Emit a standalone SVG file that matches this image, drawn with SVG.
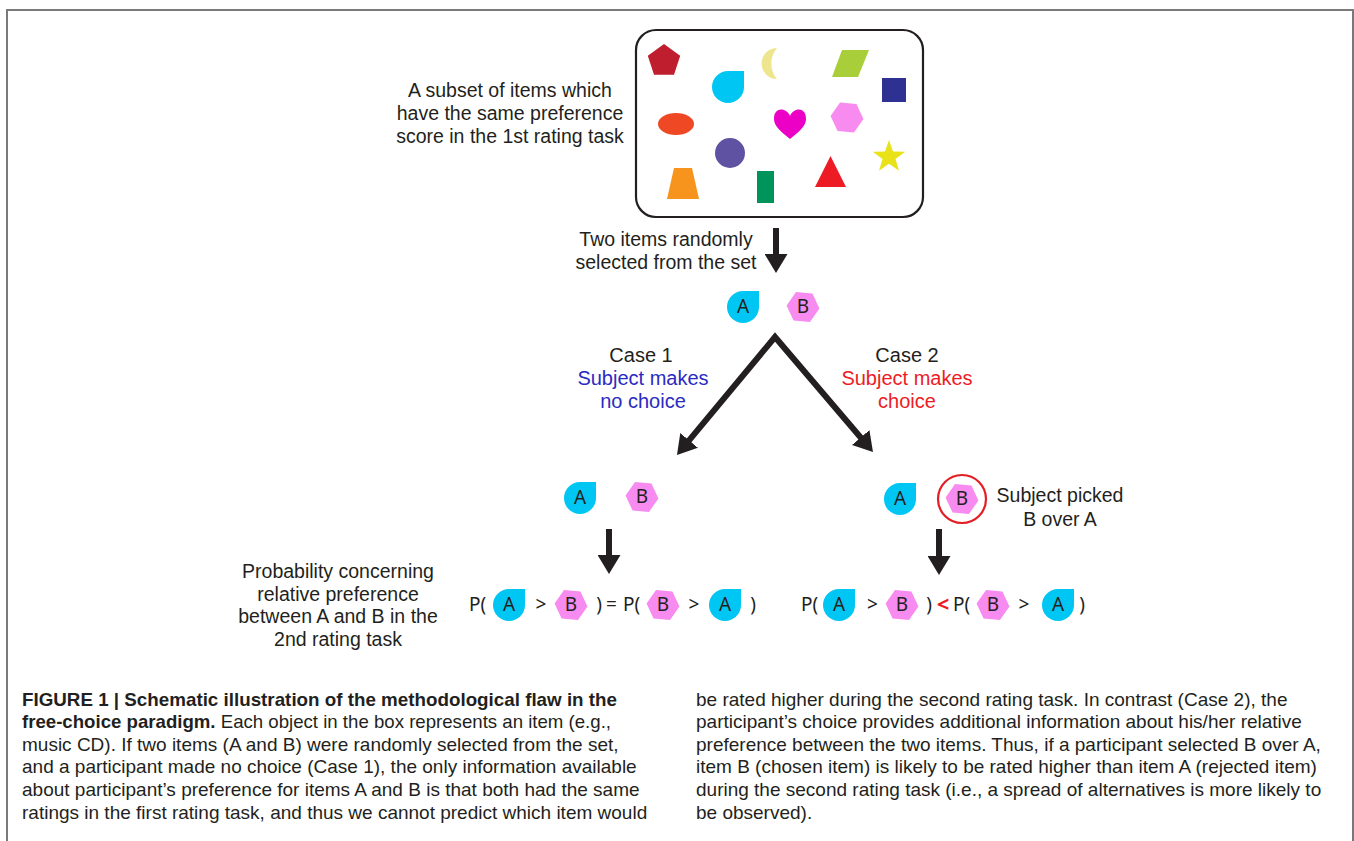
<svg xmlns="http://www.w3.org/2000/svg" xmlns:xlink="http://www.w3.org/1999/xlink" width="1354" height="841" viewBox="0 0 1354 841">
<style>
.lbl{font-family:"Liberation Sans",Arial,sans-serif;font-size:19.5px;fill:#231F20;text-anchor:middle}
.blue{fill:#2B2BC2}
.red{fill:#ED1C24}
.ico{font-family:"Noto Sans","Open Sans",sans-serif;font-size:19px;fill:#231F20;text-anchor:middle}
.fx{font-family:"Noto Sans","Open Sans",sans-serif;font-size:19px;fill:#231F20}
.cap{font-family:"Liberation Sans",Arial,sans-serif;font-size:19px;fill:#231F20}
.b{font-weight:bold}
.conn{fill:none;stroke:#231F20;stroke-width:6;stroke-linejoin:miter;stroke-miterlimit:10}
</style>
<defs>
<marker id="ah" viewBox="0 0 19 23" refX="3" refY="11.5" markerWidth="19" markerHeight="23" markerUnits="userSpaceOnUse" orient="auto-start-reverse">
<path d="M0,0 L19,11.5 L0,23 Z" fill="#231F20"/>
</marker>
<path id="tear" d="M0,-16 H16 V0 A16,16 0 1 1 0,-16 Z" fill="#00C6F3"/>
<polygon id="hex" points="16.44,1.44 6.97,14.95 -9.46,13.52 -16.44,-1.44 -6.97,-14.95 9.46,-13.52" fill="#F78BEF"/>
</defs>
<rect x="0" y="0" width="1354" height="841" fill="#FFFFFF"/>
<path d="M7,841 V10 H1353 V841" fill="none" stroke="#7A7A7A" stroke-width="2"/>

<g id="item-set">
<rect x="636" y="30" width="287" height="187" rx="20" ry="20" fill="#FFFFFF" stroke="#231F20" stroke-width="2.2"/>
<polygon points="664,44 680.2,55.7 674,74.8 654,74.8 647.8,55.7" fill="#BE1E2D"/>
<path d="M728,71 H744 V87 A16,16 0 1 1 728,71 Z" fill="#00C6F3"/>
<path d="M777,48 A15.5,15.5 0 0 0 777,79 A24,24 0 0 1 777,48 Z" fill="#EEE68F"/>
<polygon points="842,50 869,50 858,77 832,77" fill="#A8CF3A"/>
<rect x="882" y="78" width="24" height="24" fill="#2E3192"/>
<ellipse cx="676" cy="124" rx="18" ry="11" fill="#EE4824"/>
<path d="M790,116 C787,108 774,106 774,119 C774,127 783,133 790,139 C797,133 806,127 806,119 C806,106 793,108 790,116 Z" fill="#EC00C6"/>
<use xlink:href="#hex" href="#hex" x="847" y="117.5"/>
<circle cx="730" cy="153" r="15" fill="#6052A2"/>
<polygon points="889,140 893,151.5 905.2,151.7 895.5,159 899,170.8 889,163.8 879,170.8 882.5,159 872.8,151.7 885,151.5" fill="#E9E219"/>
<polygon points="815,187 846,187 830.5,156" fill="#ED1C24"/>
<rect x="757" y="171" width="17" height="32" fill="#00945A"/>
<polygon points="674,168 692,168 699,199 667,199" fill="#F7941D"/>
</g>

<g id="item-set-label">
<text class="lbl" x="510" y="97">A subset of items which</text>
<text class="lbl" x="510" y="120">have the same preference</text>
<text class="lbl" x="510" y="143">score in the 1st rating task</text>
</g>

<g id="selection-label">
<text class="lbl" x="666" y="246">Two items randomly</text>
<text class="lbl" x="666" y="269">selected from the set</text>
</g>

<g id="pair-top">
<use xlink:href="#tear" href="#tear" x="743" y="307"/>
<text class="ico" x="743" y="313">A</text>
<use xlink:href="#hex" href="#hex" x="803" y="307"/>
<text class="ico" x="803" y="313">B</text>
</g>

<g id="case1-label">
<text class="lbl" x="641" y="362" style="font-size:20px">Case 1</text>
<text class="lbl blue" x="643" y="385" style="font-size:20px">Subject makes</text>
<text class="lbl blue" x="643" y="408" style="font-size:20px">no choice</text>
</g>

<g id="case2-label">
<text class="lbl" x="907" y="362" style="font-size:20px">Case 2</text>
<text class="lbl red" x="907" y="385" style="font-size:20px">Subject makes</text>
<text class="lbl red" x="907" y="408" style="font-size:20px">choice</text>
</g>

<g id="pair-case1">
<use xlink:href="#tear" href="#tear" x="580" y="498"/>
<text class="ico" x="580" y="504">A</text>
<use xlink:href="#hex" href="#hex" x="642" y="497"/>
<text class="ico" x="642" y="503">B</text>
</g>

<g id="pair-case2">
<use xlink:href="#tear" href="#tear" x="900" y="499"/>
<text class="ico" x="900" y="505">A</text>
<circle cx="962" cy="499" r="24" fill="none" stroke="#E31E24" stroke-width="2.2"/>
<use xlink:href="#hex" href="#hex" x="962" y="499"/>
<text class="ico" x="962" y="505">B</text>
<text class="lbl" x="1060" y="502">Subject picked</text>
<text class="lbl" x="1060" y="526">B over A</text>
</g>

<g id="probability-label">
<text class="lbl" x="338" y="578">Probability concerning</text>
<text class="lbl" x="338" y="600.5">relative preference</text>
<text class="lbl" x="338" y="623">between A and B in the</text>
<text class="lbl" x="338" y="645.5">2nd rating task</text>
</g>

<g id="formula-case1">
<text class="fx" x="469" y="611">P(</text>
<use xlink:href="#tear" href="#tear" x="509" y="605"/>
<text class="ico" x="509" y="611">A</text>
<text class="ico" x="541" y="611">&gt;</text>
<use xlink:href="#hex" href="#hex" x="571" y="605"/>
<text class="ico" x="571" y="611">B</text>
<text class="ico" x="599" y="611">)</text>
<text class="ico" x="611.5" y="611">=</text>
<text class="fx" x="623" y="611">P(</text>
<use xlink:href="#hex" href="#hex" x="663" y="605"/>
<text class="ico" x="663" y="611">B</text>
<text class="ico" x="694" y="611">&gt;</text>
<use xlink:href="#tear" href="#tear" x="725" y="605"/>
<text class="ico" x="725" y="611">A</text>
<text class="ico" x="753" y="611">)</text>
</g>

<g id="formula-case2">
<text class="fx" x="801" y="611">P(</text>
<use xlink:href="#tear" href="#tear" x="839" y="605"/>
<text class="ico" x="839" y="611">A</text>
<text class="ico" x="872.5" y="611">&gt;</text>
<use xlink:href="#hex" href="#hex" x="902" y="605"/>
<text class="ico" x="902" y="611">B</text>
<text class="ico" x="929" y="611">)</text>
<text class="ico b" x="943" y="612" style="fill:#ED1C24;font-size:22px">&lt;</text>
<text class="fx" x="953" y="611">P(</text>
<use xlink:href="#hex" href="#hex" x="993" y="605"/>
<text class="ico" x="993" y="611">B</text>
<text class="ico" x="1024" y="611">&gt;</text>
<use xlink:href="#tear" href="#tear" x="1058" y="605"/>
<text class="ico" x="1058" y="611">A</text>
<text class="ico" x="1082" y="611">)</text>
</g>

<g id="connectors">
<path class="conn" d="M776,228 V257" marker-end="url(#ah)"/>
<path class="conn" d="M687.2,442.7 L775,337 L862.6,439.8" marker-start="url(#ah)" marker-end="url(#ah)"/>
<path class="conn" d="M609,529 V558" marker-end="url(#ah)"/>
<path class="conn" d="M939,529 V559" marker-end="url(#ah)"/>
</g>

<g id="caption">
<text class="cap" x="22" y="705.5" textLength="595" lengthAdjust="spacingAndGlyphs"><tspan class="b">FIGURE 1 | Schematic illustration of the methodological flaw in the</tspan></text>
<text class="cap" x="22" y="728.1" textLength="589" lengthAdjust="spacingAndGlyphs"><tspan class="b">free-choice paradigm.</tspan> Each object in the box represents an item (e.g.,</text>
<text class="cap" x="22" y="750.7">music CD). If two items (A and B) were randomly selected from the set,</text>
<text class="cap" x="22" y="773.3">and a participant made no choice (Case 1), the only information available</text>
<text class="cap" x="22" y="795.9">about participant’s preference for items A and B is that both had the same</text>
<text class="cap" x="22" y="818.5">ratings in the first rating task, and thus we cannot predict which item would</text>
<text class="cap" x="696" y="705.5">be rated higher during the second rating task. In contrast (Case 2), the</text>
<text class="cap" x="696" y="728.1">participant’s choice provides additional information about his/her relative</text>
<text class="cap" x="696" y="750.7">preference between the two items. Thus, if a participant selected B over A,</text>
<text class="cap" x="696" y="773.3">item B (chosen item) is likely to be rated higher than item A (rejected item)</text>
<text class="cap" x="696" y="795.9">during the second rating task (i.e., a spread of alternatives is more likely to</text>
<text class="cap" x="696" y="818.5">be observed).</text>
</g>
</svg>
